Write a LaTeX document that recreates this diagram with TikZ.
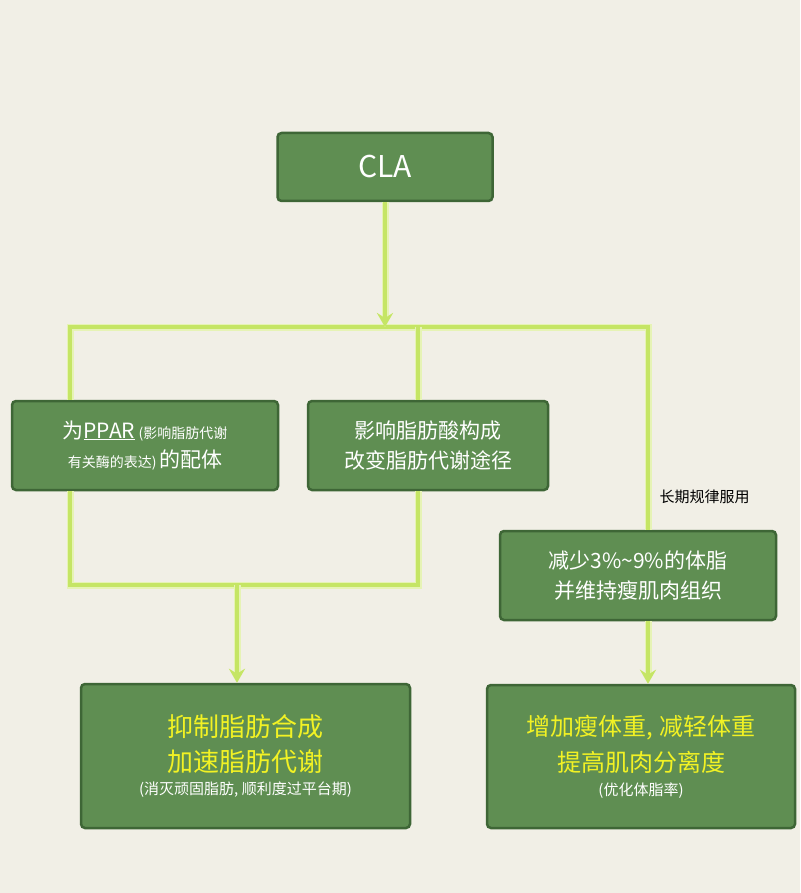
\documentclass[tikz,border=0pt]{standalone}
\usepackage{fontspec}
\setmainfont{Noto Sans CJK SC}
\usetikzlibrary{arrows.meta}
\definecolor{bg}{HTML}{F1EFE6}
\definecolor{boxf}{HTML}{5F8E52}
\definecolor{boxd}{HTML}{3E6636}
\definecolor{ln}{HTML}{C5E565}
\definecolor{glow}{HTML}{E6F3B5}
\definecolor{ylw}{HTML}{F2F224}
\newcommand{\bigy}[2]{\fontsize{#1}{#1}\selectfont\textcolor{ylw}{#2}}
\newcommand{\fs}[2]{\fontsize{#1}{#1}\selectfont #2}
\tikzset{
 gbox/.style={draw=boxd,line width=2.5pt,fill=boxf,rounded corners=4pt,text=white,align=center,inner sep=0pt},
 conn/.style={draw=ln,line width=3.5pt,preaction={draw=glow,line width=7pt}},
 arr/.style={conn,-{Stealth[length=14pt,width=16pt,inset=5pt]}},
}
\begin{document}
\begin{tikzpicture}[x=1pt,y=-1pt]
\fill[bg] (0,0) rectangle (800,893);
\useasboundingbox (0,0) rectangle (800,893);
\node[gbox,minimum width=215pt,minimum height=68pt,font=\fontsize{30}{32}\selectfont] (cla) at (385,167) {CLA};
\node[gbox,minimum width=266pt,minimum height=89pt] (b1) at (145,445.5) {\fs{21}{为\underline{PPAR}}\,\fs{14}{(影响脂肪代谢}\\[8pt]\fs{14}{有关酶的表达)}\,\fs{21}{的配体}};
\node[gbox,minimum width=240pt,minimum height=89pt,font=\fontsize{21}{30}\selectfont] (b2) at (428,445.5) {影响脂肪酸构成\\改变脂肪代谢途径};
\node[gbox,minimum width=276pt,minimum height=89pt,font=\fontsize{21}{30}\selectfont] (b3) at (638,575.5) {减少3\%\textasciitilde9\%的体脂\\并维持瘦肌肉组织};
\node[gbox,minimum width=329pt,minimum height=144pt] (b4) at (245.5,756) {\bigy{26}{抑制脂肪合成}\\[10pt]\bigy{26}{加速脂肪代谢}\\[8pt]\fs{15}{(消灭顽固脂肪, 顺利度过平台期)}};
\node[gbox,minimum width=308pt,minimum height=143pt] (b5) at (641,756.5) {\bigy{24}{增加瘦体重, 减轻体重}\\[10pt]\bigy{24}{提高肌肉分离度}\\[8pt]\fs{15}{(优化体脂率)}};
\coordinate (t) at (385,327);
\coordinate (l) at (70,327);
\coordinate (r) at (648,327);
\coordinate (m) at (418,327);
\coordinate (bl) at (70,585);
\coordinate (br) at (418,585);
\coordinate (bm) at (237,585);
\draw[conn] (l|-b1.south) -- (bl) -- (br) -- (m|-b2.south);
\draw[conn] (l|-b1.north) -- (l) -- (r) -- (r|-b3.north);
\draw[conn] (m) -- (m|-b2.north);
\draw[arr] (cla.south) -- (t);
\draw[arr] (bm) -- (bm|-b4.north);
\draw[arr] (r|-b3.south) -- (r|-b5.north);
\node[anchor=west,font=\fontsize{15}{18}\selectfont] (lab) at (656,497) {长期规律服用};
\end{tikzpicture}
\end{document}
